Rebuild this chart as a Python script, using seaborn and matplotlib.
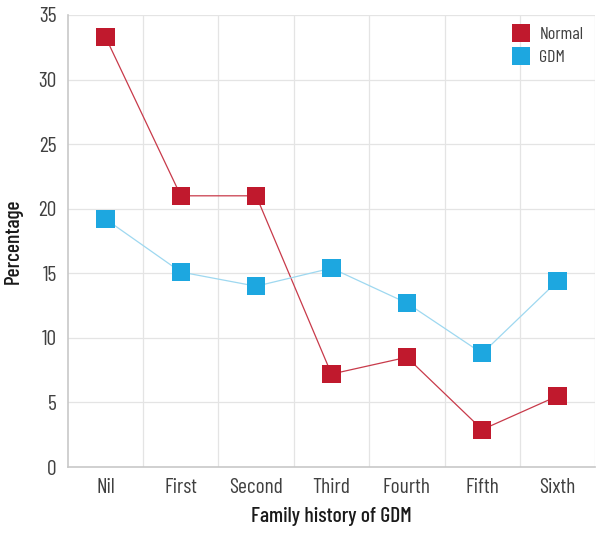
import matplotlib
matplotlib.use("Agg")
import matplotlib.pyplot as plt
import seaborn as sns
import pandas as pd
from matplotlib import font_manager

categories = ["Nil", "First", "Second", "Third", "Fourth", "Fifth", "Sixth"]
normal = [33.3, 21.0, 21.0, 7.2, 8.5, 2.9, 5.5]
gdm = [19.2, 15.1, 14.0, 15.4, 12.7, 8.8, 14.4]
series_names = ["Normal", "GDM"]
colors = {"Normal": "#C0192D", "GDM": "#1DA7E0"}
line_colors = {"Normal": "#C83A4A", "GDM": "#9ED8F0"}

df = pd.DataFrame({
    "cat": categories * 2,
    "x": list(range(len(categories))) * 2,
    "val": normal + gdm,
    "series": ["Normal"] * len(normal) + ["GDM"] * len(gdm),
})

sns.set_theme(style="white")
names = {f.name for f in font_manager.fontManager.ttflist}
fam = "DejaVu Sans"
for cand in ["Barlow Condensed", "Sofia Sans Condensed", "PT Sans Narrow",
             "Fira Sans Extra Condensed", "Liberation Sans Narrow"]:
    if cand in names:
        fam = cand
        break
plt.rcParams["font.family"] = [fam, "DejaVu Sans"]

fig = plt.figure(figsize=(6, 5.35), dpi=100)
ax = fig.add_axes([0.113, 0.127, 0.879, 0.845])

sns.lineplot(data=df, x="x", y="val", hue="series", palette=line_colors,
             hue_order=series_names, linewidth=0.9, legend=False, ax=ax, zorder=2)
sns.scatterplot(data=df, x="x", y="val", hue="series", palette=colors,
                hue_order=series_names, marker="s", s=170, linewidth=0,
                ax=ax, zorder=3)

ax.set_xlim(-0.5, 6.5)
ax.set_ylim(0, 35)
ax.set_yticks(range(0, 36, 5))
ax.set_xticks(range(len(categories)))
ax.set_xticklabels(categories)
for xv in [i + 0.5 for i in range(len(categories))]:
    ax.axvline(xv, color="#E4E4E4", linewidth=0.9, zorder=0)
for yv in range(5, 36, 5):
    ax.axhline(yv, color="#E4E4E4", linewidth=0.9, zorder=0)

for s in ["top", "right"]:
    ax.spines[s].set_visible(False)
for s in ["left", "bottom"]:
    ax.spines[s].set_color("#C8C8C8")
    ax.spines[s].set_linewidth(1.2)

ax.tick_params(axis="x", length=0, labelsize=15.5, colors="#404040", pad=8)
ax.tick_params(axis="y", length=0, labelsize=15.5, colors="#404040", pad=8)
ax.set_xlabel("Family history of GDM", fontsize=15.5, color="#1a1a1a",
              labelpad=7, fontweight="medium")
ax.set_ylabel("Percentage", fontsize=15.5, color="#1a1a1a", labelpad=11,
              fontweight="medium")

leg = ax.legend(loc="upper right", frameon=False, fontsize=13,
                handletextpad=0.05, borderaxespad=0.25, labelspacing=0.4,
                markerscale=0.95, bbox_to_anchor=(1.0, 1.0))
for t in leg.get_texts():
    t.set_color("#404040")

fig.savefig("out.png", dpi=100)
